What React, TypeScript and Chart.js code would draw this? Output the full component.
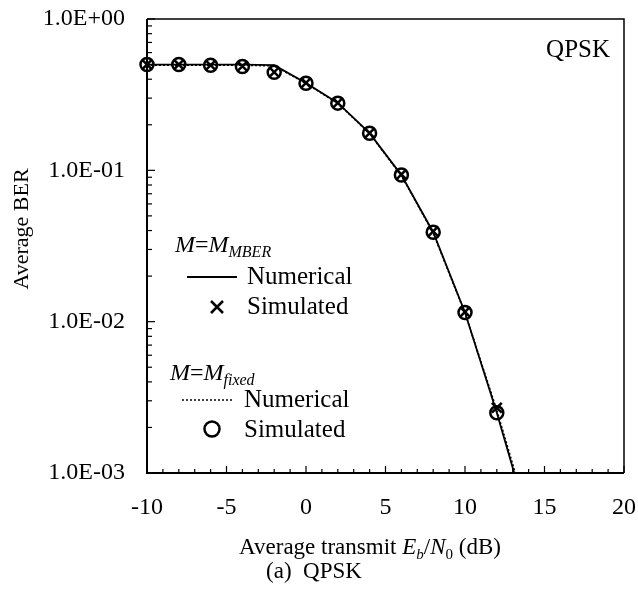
import React, { useEffect, useRef } from "react";
import { Chart, registerables } from "chart.js";

Chart.register(...registerables);

const simulatedDb = [-10, -8, -6, -4, -2, 0, 2, 4, 6, 8, 10, 12];
const numericalDb = [-10, -8, -6, -4, -2, 0, 2, 4, 6, 8, 10, 12, 14];
const mberNumerical = [0.5, 0.5, 0.5, 0.5, 0.495, 0.378, 0.279, 0.176, 0.093, 0.039, 0.0115, 0.0025, 0.00047];
const mberSimulated = [0.5, 0.5, 0.495, 0.487, 0.446, 0.378, 0.279, 0.176, 0.094, 0.0395, 0.0116, 0.0027];
const fixedNumerical = [0.495, 0.495, 0.495, 0.495, 0.49, 0.375, 0.277, 0.175, 0.092, 0.0385, 0.0114, 0.0026, 0.0005];
const fixedSimulated = [0.5, 0.5, 0.495, 0.485, 0.444, 0.376, 0.278, 0.176, 0.093, 0.039, 0.0115, 0.0025];
const yTicks = [1e-3, 1e-2, 1e-1, 1];
const xTickStep = 5;

const FONT = "'Liberation Serif', 'Times New Roman', serif";

function fmtExp(v: number): string {
  const e = Math.round(Math.log10(v));
  return "1.0E" + (e < 0 ? "-" : "+") + String(Math.abs(e)).padStart(2, "0");
}

type Seg = { t: string; italic?: boolean; size: number; dy?: number };

function drawSegs(ctx: CanvasRenderingContext2D, segs: Seg[], x: number, y: number, align: "left" | "center" = "left") {
  let total = 0;
  for (const s of segs) {
    ctx.font = `${s.italic ? "italic " : ""}${s.size}px ${FONT}`;
    total += ctx.measureText(s.t).width;
  }
  let cx = align === "center" ? x - total / 2 : x;
  ctx.textAlign = "left";
  ctx.textBaseline = "alphabetic";
  for (const s of segs) {
    ctx.font = `${s.italic ? "italic " : ""}${s.size}px ${FONT}`;
    ctx.fillText(s.t, cx, y + (s.dy || 0));
    cx += ctx.measureText(s.t).width;
  }
}

const framePlugin = {
  id: "frameAndText",
  beforeDatasetsDraw(chart: any) {
    const { ctx, chartArea } = chart;
    const { left, right, top, bottom } = chartArea;
    const ys = chart.scales.y;
    const xs = chart.scales.x;
    ctx.save();
    ctx.strokeStyle = "#000";
    ctx.lineWidth = 1.5;
    ctx.beginPath();
    ctx.moveTo(left, top);
    ctx.lineTo(right, top);
    ctx.lineTo(right, bottom);
    ctx.stroke();
    ctx.lineWidth = 2;
    ctx.beginPath();
    ctx.moveTo(left, top);
    ctx.lineTo(left, bottom);
    ctx.lineTo(right, bottom);
    ctx.stroke();
    ctx.lineWidth = 1.2;
    for (let k = -3; k <= 0; k++) {
      for (let m = 1; m <= 9; m++) {
        const v = m * Math.pow(10, k);
        if (v > 1 || v < 1e-3) continue;
        const py = ys.getPixelForValue(v);
        const len = m === 1 ? 8 : 5;
        ctx.beginPath();
        ctx.moveTo(left, py);
        ctx.lineTo(left + len, py);
        ctx.stroke();
      }
    }
    for (let d = -10; d <= 20; d++) {
      const px = xs.getPixelForValue(d);
      const len = d % 5 === 0 ? 7 : 4;
      ctx.beginPath();
      ctx.moveTo(px, bottom);
      ctx.lineTo(px, bottom - len);
      ctx.stroke();
    }
    ctx.restore();
  },
  afterDraw(chart: any) {
    const { ctx } = chart;
    ctx.save();
    ctx.fillStyle = "#000";
    ctx.strokeStyle = "#000";
    ctx.font = `25px ${FONT}`;
    ctx.textAlign = "right";
    ctx.textBaseline = "alphabetic";
    ctx.fillText("QPSK", 610, 57);

    ctx.save();
    ctx.translate(28, 229);
    ctx.rotate(-Math.PI / 2);
    ctx.font = `22px ${FONT}`;
    ctx.textAlign = "center";
    ctx.fillText("Average BER", 0, 0);
    ctx.restore();

    drawSegs(
      ctx,
      [
        { t: "Average transmit ", size: 23 },
        { t: "E", italic: true, size: 23 },
        { t: "b", italic: true, size: 15, dy: 5 },
        { t: "/", size: 23 },
        { t: "N", italic: true, size: 23 },
        { t: "0", size: 15, dy: 5 },
        { t: " (dB)", size: 23 },
      ],
      370,
      554,
      "center"
    );
    drawSegs(ctx, [{ t: "(a)  QPSK", size: 23 }], 314, 578, "center");

    drawSegs(
      ctx,
      [
        { t: "M", italic: true, size: 24 },
        { t: "=", size: 24 },
        { t: "M", italic: true, size: 24 },
        { t: "MBER", italic: true, size: 16, dy: 5 },
      ],
      175,
      252
    );
    ctx.lineWidth = 2;
    ctx.setLineDash([]);
    ctx.beginPath();
    ctx.moveTo(187, 277);
    ctx.lineTo(237, 277);
    ctx.stroke();
    drawSegs(ctx, [{ t: "Numerical", size: 25 }], 247, 284);
    ctx.lineWidth = 2.5;
    ctx.beginPath();
    ctx.moveTo(211, 301);
    ctx.lineTo(223, 313);
    ctx.moveTo(223, 301);
    ctx.lineTo(211, 313);
    ctx.stroke();
    drawSegs(ctx, [{ t: "Simulated", size: 25 }], 247, 314);

    drawSegs(
      ctx,
      [
        { t: "M", italic: true, size: 24 },
        { t: "=", size: 24 },
        { t: "M", italic: true, size: 24 },
        { t: "fixed", italic: true, size: 16, dy: 5 },
      ],
      170,
      380
    );
    ctx.lineWidth = 1.5;
    ctx.setLineDash([2, 2]);
    ctx.beginPath();
    ctx.moveTo(182, 400);
    ctx.lineTo(234, 400);
    ctx.stroke();
    ctx.setLineDash([]);
    drawSegs(ctx, [{ t: "Numerical", size: 25 }], 244, 407);
    ctx.lineWidth = 2.5;
    ctx.beginPath();
    ctx.arc(212, 429, 7.5, 0, Math.PI * 2);
    ctx.stroke();
    drawSegs(ctx, [{ t: "Simulated", size: 25 }], 244, 437);
    ctx.restore();
  },
};

export default function App() {
  const ref = useRef<HTMLCanvasElement | null>(null);
  useEffect(() => {
    document.body.style.margin = "0";
    if (!ref.current) return;
    const pts = (xs: number[], ys: number[]) => xs.map((x, i) => ({ x, y: ys[i] }));
    const chart = new Chart(ref.current, {
      type: "line",
      data: {
        datasets: [
          {
            label: "MBER Numerical",
            data: pts(numericalDb, mberNumerical),
            borderColor: "#000",
            borderWidth: 1.8,
            pointRadius: 0,
            fill: false,
          },
          {
            label: "Fixed Numerical",
            data: pts(numericalDb, fixedNumerical),
            borderColor: "#000",
            borderWidth: 1.6,
            borderDash: [2, 2],
            pointRadius: 0,
            fill: false,
          },
          {
            label: "MBER Simulated",
            data: pts(simulatedDb, mberSimulated),
            showLine: false,
            pointStyle: "crossRot",
            pointRadius: 7,
            pointBorderWidth: 2.5,
            pointBorderColor: "#000",
            borderColor: "#000",
            clip: false as any,
          },
          {
            label: "Fixed Simulated",
            data: pts(simulatedDb, fixedSimulated),
            showLine: false,
            pointStyle: "circle",
            pointRadius: 6.5,
            pointBorderWidth: 2.5,
            pointBorderColor: "#000",
            pointBackgroundColor: "rgba(0,0,0,0)",
            borderColor: "#000",
            clip: false as any,
          },
        ],
      },
      options: {
        responsive: false,
        animation: false,
        layout: { padding: { top: 19, right: 14, bottom: 0, left: 0 } },
        plugins: { legend: { display: false }, tooltip: { enabled: false }, title: { display: false } },
        scales: {
          x: {
            type: "linear",
            min: -10,
            max: 20,
            grid: { display: false, drawTicks: false },
            border: { display: false },
            ticks: {
              stepSize: xTickStep,
              padding: 20,
              color: "#000",
              font: { family: FONT, size: 24 },
              maxRotation: 0,
            },
            afterFit: (s: any) => {
              s.height = 116;
              s.paddingLeft = 0;
              s.paddingRight = 0;
            },
          },
          y: {
            type: "logarithmic",
            min: 1e-3,
            max: 1,
            grid: { display: false, drawTicks: false },
            border: { display: false },
            ticks: {
              padding: 22,
              color: "#000",
              font: { family: FONT, size: 24 },
              callback: (v: any) => fmtExp(Number(v)),
            },
            afterBuildTicks: (s: any) => {
              s.ticks = yTicks.map((v) => ({ value: v }));
            },
            afterFit: (s: any) => {
              s.width = 147;
              s.paddingTop = 0;
              s.paddingBottom = 0;
            },
          },
        },
      },
      plugins: [framePlugin],
    });
    return () => chart.destroy();
  }, []);
  return <canvas ref={ref} width={638} height={589} style={{ display: "block" }} />;
}
